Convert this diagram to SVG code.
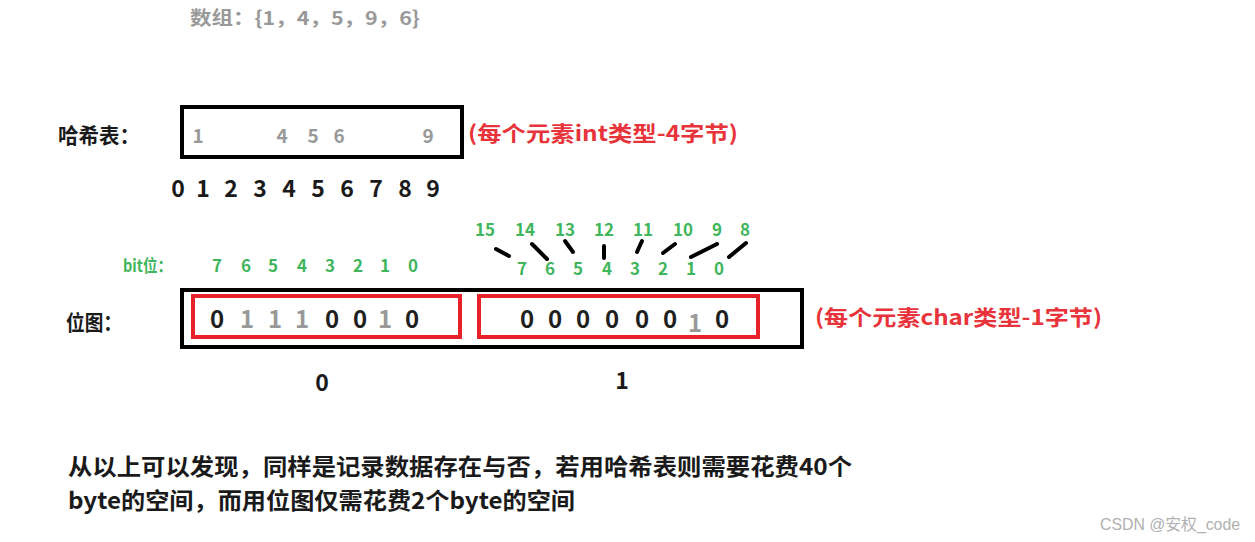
<svg xmlns="http://www.w3.org/2000/svg" width="1255" height="542" viewBox="0 0 1255 542">
<style>
text{font-family:"Noto Sans CJK SC","Noto Sans",sans-serif;font-weight:bold}
.lbl{font-size:21px;fill:#1a1a1a}
.gray{fill:#999999}
.hv{font-size:19px;fill:#999999;text-anchor:middle}
.idx{font-size:23px;fill:#1a1a1a;text-anchor:middle}
.red{font-size:21px;fill:#e8333a}
.grn{font-size:17px;fill:#3fb55c;text-anchor:middle}
.bit{font-size:24px;fill:#1f1f1f;text-anchor:middle}
.bitg{font-size:24px;fill:#999999;text-anchor:middle}
.box{fill:none;stroke:#000;stroke-width:4}
.rbox{fill:none;stroke:#e8202a;stroke-width:4}
.ln{stroke:#000;stroke-width:4;stroke-linecap:round}
.body{font-size:23px;fill:#1a1a1a}
</style>
<rect width="1255" height="542" fill="#ffffff"/>
<g id="title"><text x="190" y="25" font-size="19" class="gray" textLength="230" lengthAdjust="spacingAndGlyphs">数组：{1，4，5，9，6}</text></g>
<g id="hashtable">
<text x="58" y="143" class="lbl" textLength="82" lengthAdjust="spacingAndGlyphs">哈希表：</text>
<rect x="182" y="107" width="280" height="50" class="box"/>
<text x="198" y="143" class="hv">1</text>
<text x="282" y="143" class="hv">4</text>
<text x="313" y="143" class="hv">5</text>
<text x="339" y="143" class="hv">6</text>
<text x="428" y="143" class="hv">9</text>
<text x="468" y="141" class="red" textLength="270" lengthAdjust="spacingAndGlyphs">(每个元素int类型-4字节)</text>
</g>
<g id="indices">
<text x="178" y="197" class="idx">0</text>
<text x="203" y="197" class="idx">1</text>
<text x="231" y="197" class="idx">2</text>
<text x="260" y="197" class="idx">3</text>
<text x="289" y="197" class="idx">4</text>
<text x="318" y="197" class="idx">5</text>
<text x="347" y="197" class="idx">6</text>
<text x="376" y="197" class="idx">7</text>
<text x="405" y="197" class="idx">8</text>
<text x="433" y="197" class="idx">9</text>
</g>
<g id="bitlabels">
<text x="123" y="272" font-size="17" fill="#3fb55c" textLength="49" lengthAdjust="spacingAndGlyphs">bit位：</text>
<text x="217" y="272" class="grn">7</text>
<text x="246" y="272" class="grn">6</text>
<text x="273" y="272" class="grn">5</text>
<text x="302" y="272" class="grn">4</text>
<text x="330" y="272" class="grn">3</text>
<text x="358" y="272" class="grn">2</text>
<text x="385" y="272" class="grn">1</text>
<text x="413" y="272" class="grn">0</text>
<text x="485" y="236" class="grn">15</text>
<text x="525" y="236" class="grn">14</text>
<text x="565" y="236" class="grn">13</text>
<text x="604" y="236" class="grn">12</text>
<text x="643" y="236" class="grn">11</text>
<text x="683" y="236" class="grn">10</text>
<text x="717" y="236" class="grn">9</text>
<text x="745" y="236" class="grn">8</text>
<text x="522" y="275" class="grn">7</text>
<text x="550" y="275" class="grn">6</text>
<text x="578" y="275" class="grn">5</text>
<text x="607" y="275" class="grn">4</text>
<text x="635" y="275" class="grn">3</text>
<text x="663" y="275" class="grn">2</text>
<text x="691" y="275" class="grn">1</text>
<text x="719" y="275" class="grn">0</text>
</g>
<g id="connectors">
<line x1="496" y1="249" x2="509" y2="256" class="ln"/>
<line x1="532" y1="244" x2="547" y2="259" class="ln"/>
<line x1="565" y1="241" x2="573" y2="252" class="ln"/>
<line x1="604" y1="246" x2="604" y2="258" class="ln"/>
<line x1="642" y1="241" x2="637" y2="252" class="ln"/>
<line x1="675" y1="244" x2="663" y2="253" class="ln"/>
<line x1="717" y1="244" x2="691" y2="257" class="ln"/>
<line x1="746" y1="243" x2="729" y2="257" class="ln"/>
</g>
<g id="bitmap">
<text x="66" y="330" class="lbl" font-size="22" textLength="56" lengthAdjust="spacingAndGlyphs">位图：</text>
<rect x="182" y="290" width="620" height="57" class="box"/>
</g>
<g id="byte0">
<rect x="193" y="296" width="267" height="41" class="rbox"/>
<text x="217" y="328" class="bit">0</text>
<text x="247" y="328" class="bitg">1</text>
<text x="275" y="328" class="bitg">1</text>
<text x="302" y="328" class="bitg">1</text>
<text x="332" y="328" class="bit">0</text>
<text x="360" y="328" class="bit">0</text>
<text x="385" y="328" class="bitg">1</text>
<text x="412" y="328" class="bit">0</text>
<text x="322" y="391" class="idx">0</text>
</g>
<g id="byte1">
<rect x="479" y="296" width="279" height="41" class="rbox"/>
<text x="527" y="328" class="bit">0</text>
<text x="555" y="328" class="bit">0</text>
<text x="583" y="328" class="bit">0</text>
<text x="612" y="328" class="bit">0</text>
<text x="642" y="328" class="bit">0</text>
<text x="670" y="328" class="bit">0</text>
<text x="695" y="332" class="bitg">1</text>
<text x="722" y="328" class="bit">0</text>
<text x="622" y="389" class="idx">1</text>
</g>
<g id="note2"><text x="815" y="325" class="red" textLength="287" lengthAdjust="spacingAndGlyphs">(每个元素char类型-1字节)</text></g>
<g id="summary">
<text x="68" y="475" class="body" textLength="784" lengthAdjust="spacingAndGlyphs">从以上可以发现，同样是记录数据存在与否，若用哈希表则需要花费40个</text>
<text x="68" y="509" class="body" textLength="507" lengthAdjust="spacingAndGlyphs">byte的空间，而用位图仅需花费2个byte的空间</text>
</g>
<g id="watermark"><text x="1100" y="530" font-size="16" fill="#b0b0b0" textLength="140" lengthAdjust="spacingAndGlyphs" style="font-family:'Liberation Sans','Noto Sans CJK SC',sans-serif;font-weight:normal">CSDN @安权_code</text></g>
</svg>
